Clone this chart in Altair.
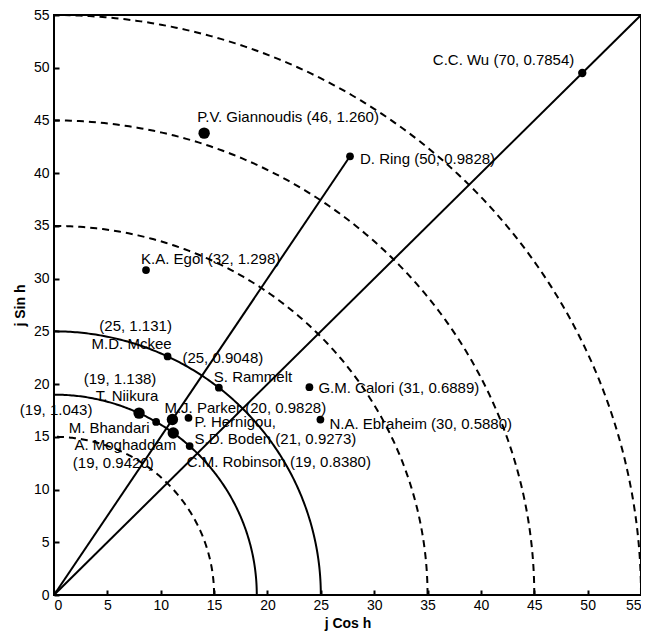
import numpy as np
import pandas as pd
import altair as alt

# ---------------- data ----------------
names = ["C.C. Wu", "P.V. Giannoudis", "D. Ring", "K.A. Egol", "M.D. Mckee",
         "S. Rammelt", "G.M. Calori", "N.A. Ebraheim", "M.J. Parker",
         "P. Hernigou / S.D. Boden", "C.M. Robinson", "T. Niikura",
         "M. Bhandari", "A. Moghaddam"]
j_vals = [70, 46, 50, 32, 25, 25, 31, 30, 20, 21, 19, 19, 19, 19]
h_vals = [0.7854, 1.260, 0.9828, 1.298, 1.131, 0.9048, 0.6889, 0.5880,
          0.9828, 0.9273, 0.8380, 1.138, 1.043, 0.9420]
dot_area = [70, 130, 60, 60, 60, 60, 60, 60, 130, 60, 60, 130, 60, 130]

solid_radii = [19, 25]
dashed_radii = [15, 35, 45, 55]
ray_lengths = [50, 77.78]
ray_angles = [0.9828, 0.7854]

axis_ticks = list(range(0, 56, 5))

# label layout: (point index, text, dx, dy, align)
LABELS = [
    (0, "C.C. Wu (70, 0.7854)", -8, -13, "right"),
    (1, "P.V. Giannoudis (46, 1.260)", -7, -16, "left"),
    (2, "D. Ring (50, 0.9828)", 10, 3, "left"),
    (3, "K.A. Egol (32, 1.298)", -5, -11, "left"),
    (4, "(25, 1.131)", -32, -30, "center"),
    (4, "M.D. Mckee", -36, -12, "center"),
    (5, "(25, 0.9048)", 4, -30, "center"),
    (5, "S. Rammelt", -5, -11, "left"),
    (6, "G.M. Calori (31, 0.6889)", 9, 1, "left"),
    (7, "N.A. Ebraheim (30, 0.5880)", 9, 4, "left"),
    (8, "M.J. Parker (20, 0.9828)", -8, -12, "left"),
    (9, "P. Hernigou,", 6, 4, "left"),
    (9, "S.D. Boden (21, 0.9273)", 6, 21, "left"),
    (10, "C.M. Robinson (19, 0.8380)", -3, 16, "left"),
    (11, "(19, 1.138)", -19, -34, "center"),
    (11, "T. Niikura", -12, -17, "center"),
    (12, "(19, 1.043)", -100, -12, "center"),
    (12, "M. Bhandari", -47, 6, "center"),
    (13, "A. Moghaddam", -48, 12, "center"),
    (13, "(19, 0.9420)", -60, 30, "center"),
]

FONT = "Liberation Sans"
LABEL_SIZE = 15

# ---------------- frames ----------------
pts = pd.DataFrame({
    "name": names,
    "j": j_vals,
    "h": h_vals,
    "area": dot_area,
})
pts["x"] = pts["j"] * np.cos(pts["h"])
pts["y"] = pts["j"] * np.sin(pts["h"])

theta = np.linspace(0, np.pi / 2, 181)


def arc_frame(radii):
    rows = []
    for r in radii:
        for t in theta:
            rows.append({"r": r, "t": t, "x": r * np.cos(t), "y": r * np.sin(t)})
    return pd.DataFrame(rows)


solid_arcs = arc_frame(solid_radii)
dashed_arcs = arc_frame(dashed_radii)

ray_rows = []
for k, (L, a) in enumerate(zip(ray_lengths, ray_angles)):
    ray_rows.append({"ray": k, "o": 0, "x": 0.0, "y": 0.0})
    ray_rows.append({"ray": k, "o": 1, "x": L * np.cos(a), "y": L * np.sin(a)})
rays = pd.DataFrame(ray_rows)

xscale = alt.Scale(domain=[0, 55], nice=False, zero=False)
yscale = alt.Scale(domain=[0, 55], nice=False, zero=False)

xaxis = alt.Axis(title="j Cos h", values=axis_ticks, grid=False, domain=False,
                 offset=-5, tickSize=5, tickWidth=2, tickColor="black",
                 labelPadding=3, labelFontSize=14, labelFont=FONT,
                 labelColor="black", titleFont=FONT, titleFontSize=14,
                 titleFontWeight="bold", titleColor="black", titlePadding=4)
yaxis = alt.Axis(title="j Sin h", values=axis_ticks, grid=False, domain=False,
                 offset=-5, tickSize=5, tickWidth=2, tickColor="black",
                 labelPadding=5, labelFontSize=14, labelFont=FONT,
                 labelColor="black", titleFont=FONT, titleFontSize=14,
                 titleFontWeight="bold", titleColor="black", titlePadding=6)

X = alt.X("x:Q", scale=xscale, axis=xaxis)
Y = alt.Y("y:Q", scale=yscale, axis=yaxis)

solid_layer = alt.Chart(solid_arcs).mark_line(
    color="black", strokeWidth=2, clip=True
).encode(x=X, y=Y, detail="r:N", order="t:Q")

dashed_layer = alt.Chart(dashed_arcs).mark_line(
    color="black", strokeWidth=2, strokeDash=[7, 5], clip=True
).encode(x=X, y=Y, detail="r:N", order="t:Q")

ray_layer = alt.Chart(rays).mark_line(
    color="black", strokeWidth=2, clip=True
).encode(x=X, y=Y, detail="ray:N", order="o:Q")

dot_layer = alt.Chart(pts).mark_circle(color="black", opacity=1).encode(
    x=X, y=Y,
    size=alt.Size("area:Q", scale=None, legend=None),
)

text_layers = []
for idx, txt, dx, dy, align in LABELS:
    row = pts.iloc[[idx]][["x", "y"]].copy()
    row["label"] = txt
    text_layers.append(
        alt.Chart(row).mark_text(
            font=FONT, fontSize=LABEL_SIZE, color="black", align=align,
            baseline="middle", dx=dx, dy=dy
        ).encode(x=X, y=Y, text="label:N")
    )

chart = alt.layer(dashed_layer, solid_layer, ray_layer, dot_layer, *text_layers).properties(
    width=587, height=580,
    autosize=alt.AutoSizeParams(type="none"),
    padding={"left": 46, "top": 7, "right": 0, "bottom": 45},
).configure_view(stroke="black", strokeWidth=2)

chart.save("out.html", embed_options={"renderer": "svg", "actions": False})
